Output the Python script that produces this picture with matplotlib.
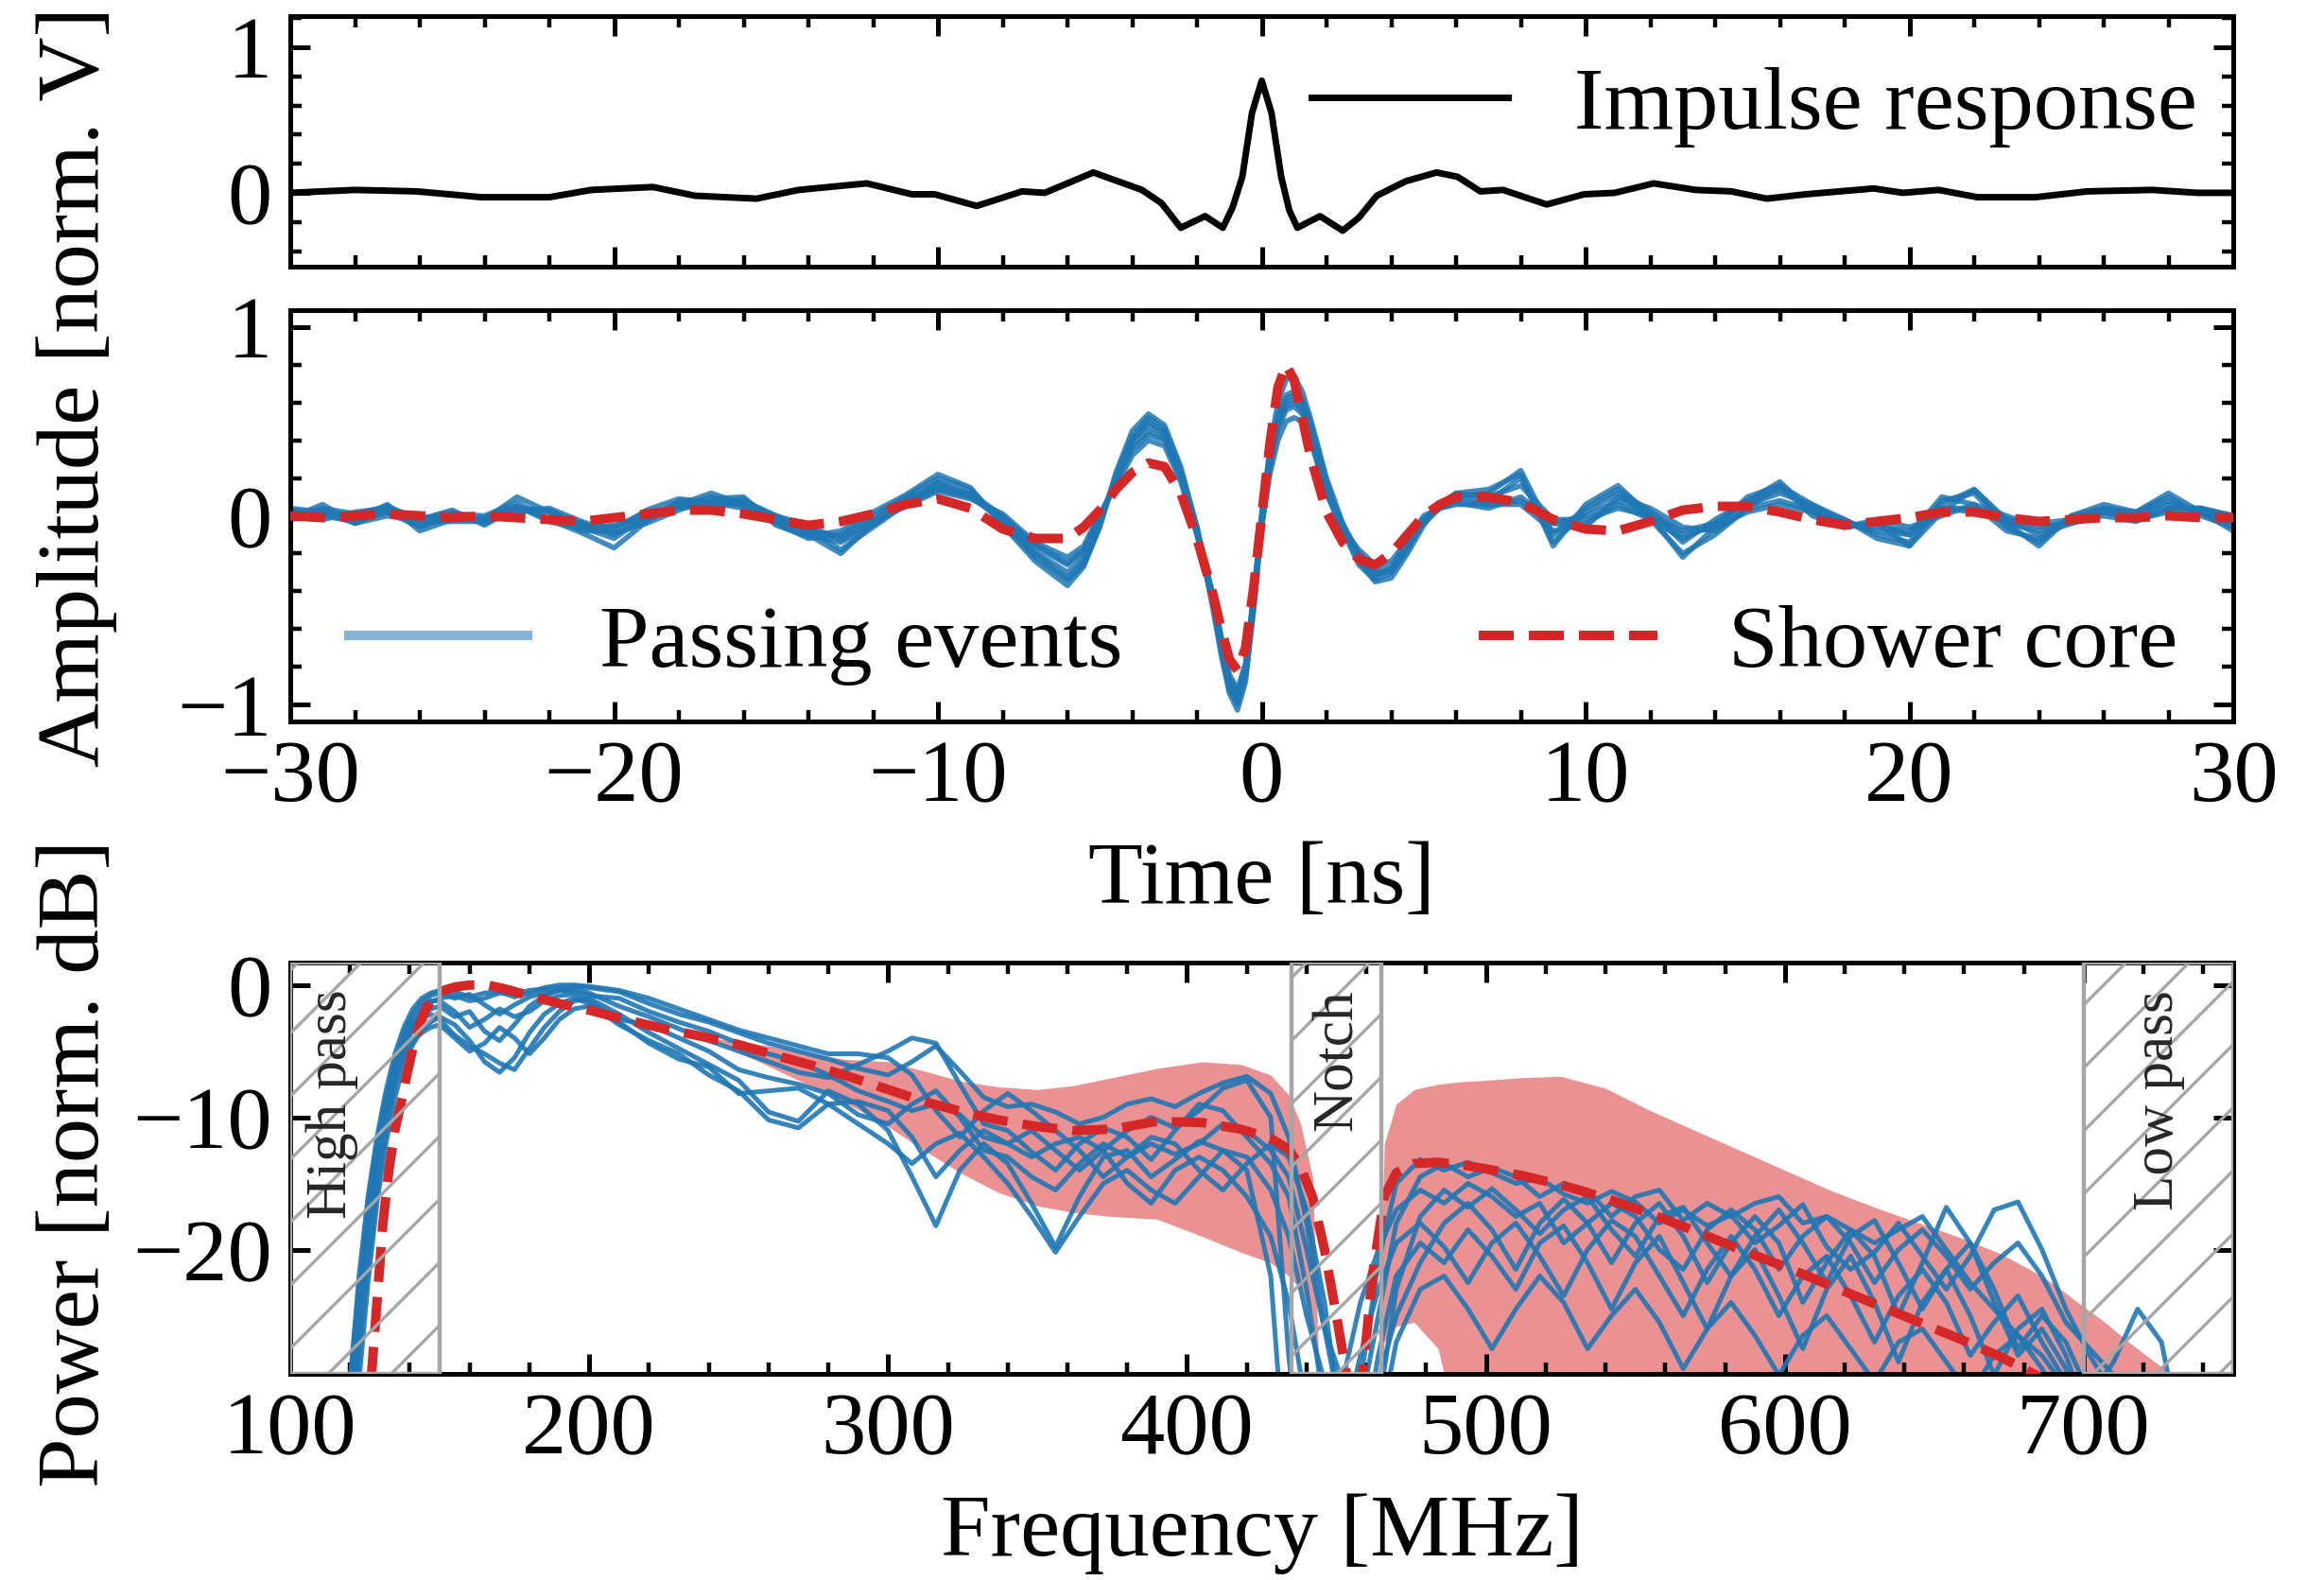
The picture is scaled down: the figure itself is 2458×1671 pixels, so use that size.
import matplotlib
matplotlib.use("Agg")
import matplotlib.pyplot as plt
from matplotlib.ticker import MultipleLocator, NullLocator
from matplotlib.lines import Line2D

plt.rcParams['font.family'] = ['Liberation Serif', 'DejaVu Serif']
plt.rcParams['font.size'] = 17
plt.rcParams['axes.linewidth'] = 0.9
plt.rcParams['hatch.linewidth'] = 0.6

BLUE = '#1f77b4'
RED = '#d62728'

# ---------- top panel: impulse response ----------
imp_t = [-30, -28.0, -26.1, -24.1, -22.0, -20.7, -18.8, -17.5, -15.6, -14.3,
         -12.2, -10.8, -10.1, -8.8, -7.4, -6.7, -5.2, -3.7, -3.1, -2.5,
         -1.75, -1.2, -0.9, -0.6, -0.3, 0.0, 0.3, 0.6, 0.85, 1.1,
         1.8, 2.5, 3.0, 3.55, 4.45, 5.4, 6.05, 6.75, 7.45, 8.8,
         9.95, 10.9, 12.1, 13.4, 14.5, 15.6, 16.8, 18.9, 19.8, 20.9,
         22.1, 23.9, 25.5, 27.5, 28.9, 30]
imp_v = [0.0, 0.02, 0.01, -0.03, -0.03, 0.02, 0.04, -0.02, -0.04, 0.02,
         0.065, -0.01, -0.01, -0.09, 0.01, 0.0, 0.14, 0.02, -0.07, -0.24,
         -0.16, -0.24, -0.1, 0.11, 0.55, 0.77, 0.55, 0.11, -0.12, -0.24,
         -0.16, -0.26, -0.17, -0.02, 0.08, 0.14, 0.11, 0.01, 0.02, -0.08,
         -0.01, 0.0, 0.065, 0.02, 0.01, -0.04, -0.01, 0.03, 0.0, 0.02,
         -0.03, -0.03, 0.01, 0.02, 0.0, 0.0]

# ---------- middle panel: traces ----------
t_mid = [-30, -29, -28, -27, -26, -25, -24, -23, -22, -21,
         -20, -19, -18, -17, -16, -15, -14, -13, -12, -11,
         -10, -9, -8, -7, -6,
         -5.5, -5, -4.5, -4, -3.5, -3, -2.5, -2, -1.5, -1.25,
         -1, -0.75, -0.5, -0.25, 0, 0.25, 0.5, 0.75, 1, 1.25,
         1.5, 2, 2.5, 3, 3.5, 4, 4.5, 5, 5.5,
         6, 7, 8, 9, 10, 11, 12, 13, 14, 15,
         16, 17, 18, 19, 20, 21, 22, 23, 24, 25,
         26, 27, 28, 29, 30]

core_amp = [0.0, -0.01, 0.0, 0.01, 0.0, -0.01, 0.0, -0.01, -0.02, -0.03,
            -0.01, 0.01, 0.03, 0.03, 0.01, -0.02, -0.05, -0.03, 0.01, 0.06,
            0.09, 0.04, -0.07, -0.12, -0.12,
            -0.06, 0.03, 0.14, 0.23, 0.28, 0.26, 0.12, -0.12, -0.42, -0.6,
            -0.76, -0.82, -0.7, -0.38, 0.0, 0.38, 0.68, 0.8, 0.72, 0.52,
            0.32, 0.02, -0.14, -0.23, -0.26, -0.2, -0.1, 0.0, 0.06,
            0.1, 0.1, 0.07, -0.02, -0.07, -0.08, -0.03, 0.03, 0.05, 0.05,
            0.02, -0.02, -0.05, -0.03, -0.01, 0.02, 0.02, -0.01, -0.03, -0.02,
            -0.01, -0.01, 0.0, -0.01, -0.01]

ev1_amp = [-0.02, 0.04, 0.01, 0.05, -0.02, 0.02, -0.04, 0.03, 0.02, -0.04,
           -0.1, -0.02, 0.05, 0.1, 0.05, -0.04, -0.12, -0.1, 0.0, 0.1,
           0.2, 0.14, -0.04, -0.22, -0.34,
           -0.26, -0.05, 0.22, 0.42, 0.52, 0.46, 0.24, -0.08, -0.48, -0.72,
           -0.92, -1.0, -0.85, -0.45, 0.0, 0.32, 0.52, 0.62, 0.64, 0.6,
           0.5, 0.18, -0.08, -0.26, -0.34, -0.3, -0.18, -0.02, 0.06,
           0.1, 0.12, 0.24, -0.1, 0.04, 0.14, 0.02, -0.14, -0.02, 0.08,
           0.14, 0.04, -0.02, -0.1, -0.14, 0.08, 0.12, -0.06, -0.14, 0.0,
           0.04, 0.02, 0.1, 0.0, -0.06]
ev2_amp = [0.03, 0.0, -0.03, 0.02, -0.06, 0.01, 0.0, 0.07, -0.02, -0.09,
           -0.17, -0.03, 0.08, 0.07, 0.08, 0.0, -0.07, -0.18, -0.06, 0.06,
           0.14, 0.1, -0.01, -0.15, -0.25,
           -0.18, 0.0, 0.18, 0.35, 0.43, 0.4, 0.2, -0.1, -0.44, -0.66,
           -0.86, -0.94, -0.8, -0.44, -0.04, 0.26, 0.46, 0.56, 0.58, 0.54,
           0.42, 0.12, -0.08, -0.2, -0.28, -0.27, -0.14, -0.02, 0.04,
           0.07, 0.04, 0.1, -0.04, -0.06, 0.1, 0.04, -0.06, -0.08, 0.04,
           0.08, 0.03, -0.06, -0.02, -0.06, 0.0, 0.06, 0.0, -0.06, -0.04,
           0.0, -0.03, 0.04, 0.04, 0.0]
ev3_amp = [-0.01, 0.06, -0.04, 0.0, -0.03, -0.03, -0.03, 0.04, 0.03, -0.05,
           -0.06, 0.02, 0.04, 0.06, 0.09, -0.03, -0.1, -0.2, -0.04, 0.07,
           0.17, 0.1, -0.02, -0.19, -0.3,
           -0.22, -0.03, 0.2, 0.4, 0.48, 0.43, 0.22, -0.06, -0.43, -0.66,
           -0.88, -0.98, -0.84, -0.48, -0.06, 0.27, 0.48, 0.58, 0.6, 0.56,
           0.44, 0.14, -0.04, -0.2, -0.3, -0.3, -0.16, -0.04, 0.04,
           0.08, 0.06, 0.06, -0.08, -0.04, 0.06, -0.02, -0.2, -0.1, 0.04,
           0.16, 0.0, -0.06, -0.04, -0.1, 0.04, 0.02, -0.02, -0.1, -0.04,
           0.02, -0.02, 0.04, 0.04, -0.02]
ev4_amp = [0.02, 0.03, -0.02, 0.06, -0.08, -0.02, -0.02, 0.1, 0.02, -0.08,
           -0.08, 0.03, 0.09, 0.07, 0.04, -0.03, -0.08, -0.11, -0.02, 0.09,
           0.15, 0.12, 0.0, -0.16, -0.26,
           -0.19, -0.02, 0.19, 0.37, 0.45, 0.41, 0.22, -0.08, -0.46, -0.69,
           -0.9, -0.99, -0.83, -0.45, -0.02, 0.3, 0.5, 0.6, 0.62, 0.58,
           0.46, 0.16, -0.06, -0.24, -0.32, -0.28, -0.16, -0.04, 0.05,
           0.12, 0.1, 0.16, -0.02, -0.02, 0.04, 0.0, -0.08, -0.04, 0.08,
           0.18, 0.02, -0.06, -0.04, -0.16, 0.02, 0.14, -0.02, -0.04, -0.02,
           0.04, 0.0, 0.06, 0.02, -0.04]
ev5_amp = [-0.02, 0.01, 0.01, 0.02, -0.02, 0.03, -0.05, 0.05, -0.02, -0.06,
           -0.12, 0.0, 0.06, 0.12, 0.06, -0.01, -0.1, -0.14, -0.05, 0.07,
           0.18, 0.11, -0.03, -0.2, -0.33,
           -0.24, -0.04, 0.21, 0.4, 0.5, 0.44, 0.23, -0.09, -0.47, -0.7,
           -0.9, -0.97, -0.81, -0.42, 0.02, 0.34, 0.54, 0.64, 0.66, 0.62,
           0.48, 0.16, -0.06, -0.22, -0.31, -0.29, -0.17, -0.03, 0.06,
           0.1, 0.08, 0.2, -0.14, 0.02, 0.12, -0.02, -0.12, -0.04, 0.06,
           0.12, 0.06, -0.04, -0.08, -0.1, 0.1, 0.06, -0.08, -0.12, -0.02,
           0.02, 0.0, 0.08, 0.02, -0.08]
ev6_amp = [0.04, 0.02, -0.04, 0.03, -0.05, -0.01, -0.01, 0.05, -0.03, -0.07,
           -0.05, -0.02, 0.07, 0.05, 0.07, 0.0, -0.05, -0.13, -0.03, 0.05,
           0.13, 0.09, 0.01, -0.14, -0.22,
           -0.16, 0.01, 0.16, 0.32, 0.4, 0.37, 0.18, -0.1, -0.42, -0.64,
           -0.84, -0.92, -0.78, -0.42, -0.05, 0.22, 0.4, 0.5, 0.52, 0.5,
           0.4, 0.12, -0.07, -0.18, -0.26, -0.24, -0.13, 0.0, 0.04,
           0.06, 0.06, 0.08, -0.04, 0.0, 0.08, 0.02, -0.1, -0.06, 0.02,
           0.06, 0.02, -0.04, -0.06, -0.08, 0.04, 0.04, -0.04, -0.08, -0.02,
           0.02, -0.02, 0.02, 0.04, 0.0]
ev7_amp = [0.0, -0.02, 0.02, 0.04, -0.01, 0.0, -0.03, 0.02, 0.04, -0.03,
           -0.09, -0.04, 0.03, 0.09, 0.1, -0.05, -0.11, -0.08, 0.02, 0.11,
           0.22, 0.15, -0.05, -0.24, -0.37,
           -0.27, -0.06, 0.23, 0.45, 0.54, 0.48, 0.26, -0.06, -0.5, -0.74,
           -0.94, -1.03, -0.88, -0.5, -0.04, 0.36, 0.6, 0.72, 0.74, 0.66,
           0.52, 0.2, -0.04, -0.24, -0.35, -0.33, -0.2, -0.05, 0.06,
           0.12, 0.14, 0.22, -0.16, 0.06, 0.16, 0.0, -0.22, -0.06, 0.1,
           0.16, 0.06, -0.02, -0.12, -0.16, 0.06, 0.14, -0.04, -0.16, 0.0,
           0.06, 0.02, 0.12, 0.02, -0.04]

# ---------- bottom panel: spectra ----------
core_f = [127, 129, 131, 133, 135, 137, 139, 141, 143, 145,
          147, 150, 155, 160, 166, 172, 180, 190, 200, 212,
          225, 238, 250, 262, 275, 288, 300, 312, 325, 337,
          350, 362, 375, 390, 405, 418, 428, 434, 438, 442,
          446, 450, 453, 456, 459, 462, 466, 470, 476, 484,
          492, 500, 512, 525, 540, 555, 570, 585, 600, 615,
          630, 645, 660, 672, 685]
core_db = [-30, -24, -18, -14, -11, -9, -6.8, -4.8, -3.2, -2.0,
           -1.2, -0.5, -0.15, 0.0, 0.0, -0.3, -0.8, -1.4, -1.9, -2.6,
           -3.3, -3.9, -4.5, -5.3, -6.1, -7.0, -7.9, -8.8, -9.6, -10.2,
           -10.7, -11.0, -10.9, -10.3, -10.4, -10.9, -11.6, -12.4, -13.8, -16.0,
           -20.0, -25.0, -29.0, -32.0, -29.0, -22.0, -16.0, -14.2, -13.5, -13.4,
           -13.6, -13.9, -14.4, -15.1, -16.1, -17.3, -18.6, -20.0, -21.3, -22.7,
           -24.1, -25.5, -26.9, -28.1, -29.6]

bandA_f = [240, 255, 270, 285, 300, 312, 325, 337, 350, 362,
           375, 390, 405, 418, 428, 434, 438, 442, 445]
bandA_hi = [-4.0, -4.4, -5.0, -5.6, -5.8, -6.5, -7.3, -7.7, -7.9, -7.6,
            -7.0, -6.3, -5.8, -6.0, -6.8, -8.3, -10.5, -14.5, -35]
bandA_lo = [-4.0, -5.6, -7.2, -8.8, -10.7, -12.5, -14.3, -15.7, -16.7, -17.2,
            -17.5, -17.7, -19.0, -20.2, -21.0, -22.0, -23.0, -25.0, -35]

bandB_f = [464, 466, 470, 476, 484, 492, 500, 512, 525, 540,
           555, 570, 585, 600, 615, 630, 645, 660, 672, 682,
           690, 698, 706, 714, 722, 730]
bandB_hi = [-30, -12, -9.0, -7.9, -7.5, -7.3, -7.2, -7.0, -6.9, -7.8,
            -9.5, -11.0, -12.5, -14.0, -15.5, -16.8, -18.0, -19.2, -20.3, -21.5,
            -22.6, -24.0, -25.3, -26.8, -28.2, -29.5]
bandB_lo = [-35, -27, -25.8, -25.5, -27.5, -35, -35, -35, -35, -35,
            -35, -35, -35, -35, -35, -35, -35, -35, -35, -35,
            -35, -35, -35, -35, -35, -35]

spec_f = [115, 120, 123, 126, 129, 132, 135, 138, 141, 144,
          147, 150, 155, 160, 165, 170, 175, 180, 185, 190,
          195, 200, 210, 220, 230, 240, 250, 260, 270, 280,
          290, 300, 308, 316, 324, 332, 340, 348, 356, 364,
          372, 380, 388, 396, 404, 412, 420, 428, 434, 440,
          446, 452, 458, 464, 470, 478, 486, 494, 502, 510,
          518, 526, 534, 542, 550, 558, 566, 574, 582, 590,
          598, 606, 614, 622, 630, 638, 646, 654, 662, 670,
          678, 686, 694, 702, 710, 718, 726, 734]

ev1_db = [-40, -36, -28, -21, -15.5, -11, -7.5, -5, -3.2, -2.0,
          -1.3, -1.0, -0.8, -1.2, -1.0, -0.6, -0.7, -0.4, -0.3, -0.2,
          -0.1, -0.2, -0.5, -1.4, -2.2, -2.8, -3.6, -4.4, -5.0, -5.6,
          -6.3, -6.8, -5.8, -4.6, -6.5, -8.5, -9.2, -9.0, -9.6, -10.5,
          -10.0, -9.0, -8.6, -9.2, -8.2, -7.4, -6.9, -8.2, -11.5, -18,
          -26, -33, -30, -21, -15, -13.2, -14.0, -13.4, -14.2, -15.0,
          -14.6, -15.8, -16.5, -15.6, -16.4, -18.0, -17.0, -18.2, -17.4, -19.5,
          -18.2, -16.6, -19.8, -21.5, -20.2, -18.0, -20.5, -23.0, -20.5, -17.0,
          -16.4, -20.0, -24.5, -28.0, -31, -35, -38, -40]
ev2_db = [-40, -33, -25, -18, -13, -9.5, -6.5, -4.5, -3.2, -2.5,
          -2.2, -2.6, -3.8, -4.6, -5.2, -5.9, -6.4, -4.8, -3.2, -2.0,
          -1.2, -1.0, -2.2, -3.6, -4.8, -6.0, -7.2, -9.6, -10.3, -8.0,
          -9.0, -11.0, -14.5, -18.2, -14.0, -12.0, -13.5, -16.5, -19.8, -16.0,
          -13.0, -12.5, -14.5, -13.2, -11.8, -12.5, -14.0, -22, -40, -40,
          -40, -40, -36, -28, -22, -19.5, -21.0, -18.5, -20.5, -23.0,
          -19.5, -18.2, -21.0, -24.5, -21.0, -19.0, -22.5, -26.0, -22.0, -20.0,
          -23.5, -27.5, -23.0, -20.5, -24.0, -28.5, -24.0, -21.5, -25.0, -29.5,
          -26.0, -24.5, -28.0, -33, -37, -40, -40, -40]
ev3_db = [-40, -30, -23, -16.5, -12, -8.5, -6.0, -4.2, -3.0, -2.2,
          -1.8, -1.6, -2.4, -2.0, -3.5, -4.2, -3.0, -1.6, -0.8, -0.4,
          -0.3, -0.6, -1.6, -2.4, -3.3, -4.2, -5.0, -5.8, -6.6, -7.0,
          -6.0, -5.0, -4.0, -4.4, -7.5, -10.5, -11.0, -12.6, -14.0, -12.0,
          -10.8, -11.5, -13.2, -11.0, -9.0, -9.5, -11.5, -13.5, -16, -23,
          -32, -40, -40, -32, -23.0, -17.5, -15.5, -16.8, -15.4, -17.0,
          -18.8, -17.0, -16.0, -18.5, -20.5, -17.5, -16.8, -19.5, -22.0, -19.0,
          -17.0, -19.5, -22.5, -19.0, -17.8, -21.0, -24.5, -21.5, -19.5, -23.0,
          -27.5, -25.0, -27.0, -31, -28.5, -24.5, -27, -36]
ev4_db = [-40, -34, -26, -19, -14, -10, -7.0, -5.2, -4.2, -3.6,
          -3.2, -3.0, -4.0, -5.0, -4.4, -3.2, -4.0, -5.2, -4.0, -2.6,
          -1.8, -1.6, -2.8, -4.4, -5.6, -6.2, -8.2, -8.0, -7.8, -9.0,
          -10.5, -12.0, -13.5, -12.0, -11.2, -13.0, -15.0, -17.5, -20.2, -17.5,
          -15.0, -14.0, -15.5, -16.5, -14.5, -12.5, -13.0, -15.5, -19, -25,
          -30, -34, -28, -23, -19.5, -18.0, -19.8, -22.5, -19.5, -18.0,
          -20.5, -23.5, -20.0, -17.8, -19.0, -22.0, -25.0, -21.5, -19.0, -21.5,
          -25.0, -22.0, -20.5, -23.5, -27.0, -23.5, -21.5, -24.0, -28.0, -25.5,
          -23.5, -27.0, -30, -33, -36, -40, -40, -40]
ev5_db = [-40, -31, -24, -17.5, -12.5, -8.8, -5.8, -3.6, -2.2, -1.3,
          -0.8, -0.6, -1.0, -0.7, -1.5, -2.2, -1.5, -0.9, -0.6, -0.4,
          -0.5, -0.8, -1.0, -2.0, -2.8, -3.5, -4.4, -5.2, -5.8, -6.8,
          -8.0, -8.8, -9.5, -9.0, -9.8, -11.5, -12.0, -11.0, -12.5, -14.0,
          -12.5, -11.0, -10.0, -10.8, -9.5, -7.8, -7.2, -10.0, -28, -40,
          -40, -40, -40, -30, -25.0, -21.0, -18.0, -16.5, -18.5, -21.5,
          -18.0, -16.2, -18.0, -21.0, -18.0, -16.5, -19.0, -22.5, -19.5, -17.5,
          -19.5, -24.0, -21.0, -18.5, -20.5, -25.0, -21.0, -16.8, -19.5, -24.0,
          -28.0, -26.0, -29.0, -34, -38, -40, -40, -40]
ev6_db = [-40, -32, -24.5, -18, -13, -9.0, -6.2, -4.0, -2.6, -1.6,
          -1.2, -1.2, -2.0, -3.2, -2.6, -1.8, -2.4, -2.0, -1.2, -0.8,
          -0.7, -1.2, -2.6, -3.0, -4.0, -5.0, -6.4, -7.0, -7.5, -8.2,
          -9.8, -10.5, -9.0, -8.0, -10.0, -12.5, -13.0, -14.5, -15.5, -13.5,
          -12.0, -13.0, -12.0, -12.8, -12.0, -10.5, -11.0, -12.5, -14.5, -20,
          -26, -30, -24, -20, -17.0, -15.5, -16.5, -15.0, -16.0, -17.5,
          -16.5, -19.5, -18.0, -16.5, -17.5, -20.0, -21.5, -18.5, -17.0, -18.5,
          -21.5, -19.0, -17.5, -19.5, -22.5, -20.0, -18.5, -20.5, -23.0, -21.0,
          -19.5, -22.0, -25.5, -27.5, -29.5, -33, -38, -40]
ev7_db = [-40, -38, -30, -22.5, -16.5, -12.0, -8.5, -6.0, -4.5, -3.4,
          -2.8, -2.4, -3.0, -4.2, -5.8, -6.6, -5.5, -3.6, -2.2, -1.4,
          -1.0, -1.4, -3.0, -4.2, -5.2, -6.8, -8.0, -10.2, -10.8, -9.0,
          -8.8, -9.5, -11.5, -14.5, -12.5, -11.0, -12.0, -13.0, -12.0, -11.5,
          -12.5, -15.0, -16.5, -14.0, -13.0, -14.0, -16.0, -19.0, -24, -32,
          -40, -40, -40, -34, -27.0, -23.0, -22.0, -24.5, -27.5, -24.5,
          -22.0, -24.0, -27.5, -25.0, -23.0, -25.5, -29.0, -26.0, -24.0, -26.5,
          -29.5, -26.5, -25.0, -27.5, -30.0, -27.0, -26.0, -28.5, -31.0, -28.0,
          -26.5, -29.0, -32, -35, -38, -40, -40, -40]
ev8_db = [-40, -30, -22, -16, -11.5, -8.0, -5.2, -3.2, -1.8, -1.0,
          -0.6, -0.4, -0.5, -0.9, -0.6, -0.5, -0.9, -0.6, -0.2, 0.0,
          0.0, -0.1, -0.4, -1.0, -1.8, -2.6, -3.4, -4.0, -4.6, -5.2,
          -5.2, -5.5, -6.8, -9.5, -11.5, -9.5, -8.2, -9.5, -11.0, -12.5,
          -14.5, -13.0, -11.5, -12.0, -14.0, -15.5, -13.5, -12.0, -13.0, -17,
          -24, -34, -32, -25, -18.0, -14.5, -13.5, -14.5, -13.8, -14.5,
          -16.0, -15.0, -15.5, -17.5, -16.0, -15.5, -17.8, -16.5, -17.5, -16.5,
          -16.0, -18.0, -17.5, -18.5, -19.5, -18.5, -17.5, -20.0, -22.5, -24.5,
          -26.5, -28.0, -30.5, -33, -36, -40, -40, -40]

# filter bands (MHz)
filter_bands = [(100, 150, 'High pass', 114), (435, 465, 'Notch', 450.5),
                (700, 750, 'Low pass', 725)]

W, H = 2458, 1671
fig = plt.figure(figsize=(W / 400, H / 400), dpi=400)
left, width = 307 / W, 2055 / W
ax_top = fig.add_axes([left, 1 - 281.7 / H, width, 265 / H])
ax_mid = fig.add_axes([left, 1 - 763 / H, width, 435 / H])
ax_bot = fig.add_axes([left, 1 - 1453 / H, width, 435 / H])


def style(ax):
    ax.tick_params(which='both', direction='in', top=True, right=True)
    ax.tick_params(which='major', length=3.8, width=0.9, pad=3.5)
    ax.tick_params(which='minor', length=2.2, width=0.8)


# --- top
ax_top.plot(imp_t, imp_v, color='black', lw=1.25, label='Impulse response')
ax_top.set_xlim(-30, 30)
ax_top.set_ylim(-0.505, 1.216)
ax_top.xaxis.set_major_locator(MultipleLocator(10))
ax_top.xaxis.set_minor_locator(MultipleLocator(2))
ax_top.yaxis.set_major_locator(MultipleLocator(1))
ax_top.yaxis.set_minor_locator(MultipleLocator(0.2))
style(ax_top)
ax_top.tick_params(labelbottom=False)
ax_top.legend(loc='upper right', bbox_to_anchor=(1.0, 0.94), borderaxespad=0.0,
              frameon=False, handlelength=2.2, handletextpad=0.75)

# --- middle
for ev in [ev1_amp, ev2_amp, ev3_amp, ev4_amp, ev5_amp, ev6_amp, ev7_amp]:
    ax_mid.plot(t_mid, ev, color=BLUE, lw=1.0, alpha=0.85, zorder=2)
ax_mid.plot(t_mid, core_amp, color=RED, lw=1.8, ls='--', zorder=3)
ax_mid.set_xlim(-30, 30)
ax_mid.set_ylim(-1.09, 1.09)
ax_mid.xaxis.set_major_locator(MultipleLocator(10))
ax_mid.xaxis.set_minor_locator(MultipleLocator(2))
ax_mid.yaxis.set_major_locator(MultipleLocator(1))
ax_mid.yaxis.set_minor_locator(MultipleLocator(0.2))
style(ax_mid)
ax_mid.set_xlabel('Time [ns]')

h_ev = Line2D([], [], color=BLUE, alpha=0.55, lw=1.8)
h_core = Line2D([], [], color=RED, lw=1.8, ls='--')
leg1 = ax_mid.legend([h_ev], ['Passing events'], loc='lower left',
                     bbox_to_anchor=(0.012, 0.0), borderaxespad=0.0, frameon=False,
                     handlelength=2.0, handletextpad=0.8)
ax_mid.add_artist(leg1)
ax_mid.legend([h_core], ['Shower core'], loc='lower right',
              bbox_to_anchor=(0.99, 0.0), borderaxespad=0.0, frameon=False,
              handlelength=2.0, handletextpad=0.8)

# --- bottom
ax_bot.fill_between(bandA_f, bandA_lo, bandA_hi, color=RED, alpha=0.5, lw=0, zorder=1)
ax_bot.fill_between(bandB_f, bandB_lo, bandB_hi, color=RED, alpha=0.5, lw=0, zorder=1)
for ev in [ev1_db, ev2_db, ev3_db, ev4_db, ev5_db, ev6_db, ev7_db, ev8_db]:
    ax_bot.plot(spec_f, ev, color=BLUE, lw=0.9, alpha=0.9, zorder=2)
ax_bot.plot(core_f, core_db, color=RED, lw=1.8, ls='--', zorder=3)
for f0, f1, name, xt in filter_bands:
    ax_bot.axvspan(f0, f1, facecolor='none', edgecolor='0.65', hatch='//', lw=0.8, zorder=6)
    ax_bot.text(xt, -0.35, name, rotation=90, ha='center', va='top', fontsize=11,
                color='0.15', zorder=7)
ax_bot.set_xlim(100, 750)
ax_bot.set_ylim(-29.4, 1.7)
ax_bot.xaxis.set_major_locator(MultipleLocator(100))
ax_bot.xaxis.set_minor_locator(MultipleLocator(20))
ax_bot.yaxis.set_major_locator(MultipleLocator(10))
ax_bot.yaxis.set_minor_locator(NullLocator())
style(ax_bot)
ax_bot.set_xlabel('Frequency [MHz]')

fig.text(0.033, 0.755, 'Amplitude [norm. V]', rotation=90, ha='center', va='center')
fig.text(0.033, 0.2636, 'Power [norm. dB]', rotation=90, ha='center', va='center')

fig.savefig('out.png', dpi=400)
